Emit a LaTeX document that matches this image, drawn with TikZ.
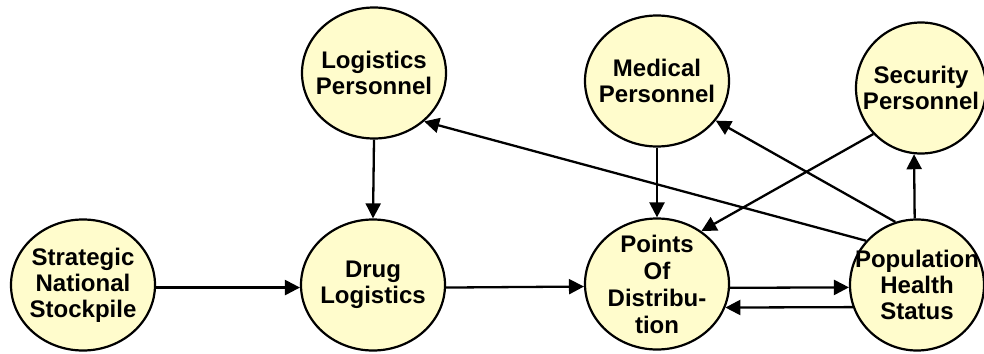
\documentclass[tikz,border=0pt]{standalone}
\usepackage{fontspec}
\setmainfont{Liberation Sans}
\usetikzlibrary{shapes.geometric,arrows.meta}
\begin{document}
\begin{tikzpicture}[x=1pt,y=-1pt,
  bubble/.style={ellipse,draw=black,line width=2.2pt,fill=yellow!20,
    minimum width=144pt,minimum height=131pt,inner sep=-25pt,align=center,
    font=\fontsize{24}{26}\selectfont\bfseries},
  link/.style={line width=2.3pt,-{Triangle[length=15pt,width=15pt]}}]
\useasboundingbox (0,0) rectangle (984,353);
% nodes
\node[bubble] (sns) at (83,285) {Strategic\\National\\Stockpile};
\node[bubble] (dl)  at (373,285) {Drug\\Logistics};
\node[bubble,font=\fontsize{24}{27}\selectfont\bfseries] (pod) at (657,284) {Points\\Of\\Distribu-\\tion};
\node[bubble,minimum width=134pt] (phs) at (917,285) {Population\\Health\\Status};
\node[bubble] (lp)  at (374,73) {Logistics\\Personnel};
\node[bubble] (mp)  at (657,81) {Medical\\Personnel};
\node[bubble,minimum width=130pt] (sp) at (921,88) {Security\\Personnel};
% connectors
\draw[link] (sns.-2) -- (dl.182);
\draw[link] (dl.-2) -- (pod.182);
\draw[link] (lp.south) -- (dl.north);
\draw[link] (mp.south) -- (pod.north);
\draw[link] (pod.-3) -- (phs.182);
\draw[link] (phs.199) -- (pod.-19);
\draw[link] (phs.139) -- (lp.-44);
\draw[link] (phs.109) -- (mp.-34);
\draw[link] (phs.92) -- (sp.-96);
\draw[link] (sp.-136) -- (pod.50);
\end{tikzpicture}
\end{document}
